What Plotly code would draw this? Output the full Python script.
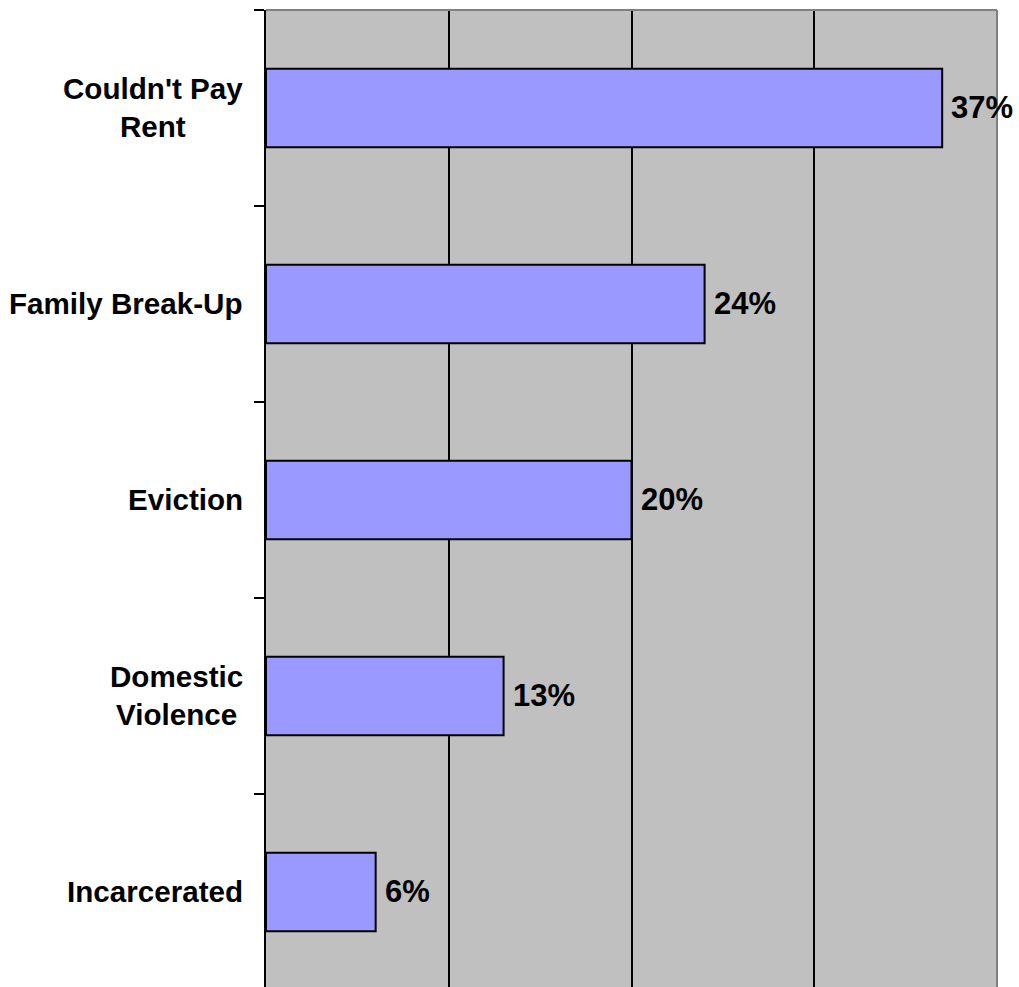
import plotly.graph_objects as go

# Reasons for homelessness, share of respondents (%)
categories = ["Couldn't Pay<br>Rent", "Family Break-Up", "Eviction",
              "Domestic<br>Violence", "Incarcerated"]
values = [37, 24, 20, 13, 6]
value_labels = ["37%", "24%", "20%", "13%", "6%"]

FONT = "Arial, 'Liberation Sans', sans-serif"

fig = go.Figure()
fig.add_trace(go.Bar(
    x=values,
    y=categories,
    orientation="h",
    width=0.4,
    marker=dict(color="#9999FF", line=dict(color="#000000", width=2)),
    hoverinfo="skip",
))

# value labels just right of each bar
for cat, v, lab in zip(categories, values, value_labels):
    fig.add_annotation(x=v, y=cat, xref="x", yref="y", text=lab,
                       showarrow=False, xanchor="left", yanchor="middle",
                       xshift=7,
                       font=dict(family=FONT, size=31, color="#000000", weight="bold"))

# category labels, centred multi-line text to the left of the axis
for cat in categories:
    fig.add_annotation(x=0, y=cat, xref="paper", yref="y", text=cat,
                       showarrow=False, xanchor="right", yanchor="middle",
                       xshift=-21, align="center",
                       font=dict(family=FONT, size=29.6, color="#000000", weight="bold"))

# grey frame on the top and right of the plot area
fig.add_shape(type="line", xref="paper", yref="paper", x0=0, x1=1, y0=1, y1=1,
              line=dict(color="#808080", width=2))
fig.add_shape(type="line", xref="paper", yref="paper", x0=1, x1=1, y0=0, y1=1,
              line=dict(color="#808080", width=2))

fig.update_layout(
    width=1019, height=987,
    margin=dict(l=266, r=22, t=10, b=0),
    paper_bgcolor="#FFFFFF",
    plot_bgcolor="#C0C0C0",
    showlegend=False,
    xaxis=dict(range=[0, 40], tickvals=[10, 20, 30], showticklabels=False,
               showgrid=True, gridcolor="#000000", gridwidth=2,
               zeroline=False, showline=False, ticks=""),
    yaxis=dict(type="category", range=[4.485, -0.5], showticklabels=False,
               showgrid=False, zeroline=False, showline=True,
               linecolor="#000000", linewidth=2,
               ticks="outside", tickson="boundaries", ticklen=10,
               tickwidth=2, tickcolor="#000000"),
)

fig.write_html("out.html")
